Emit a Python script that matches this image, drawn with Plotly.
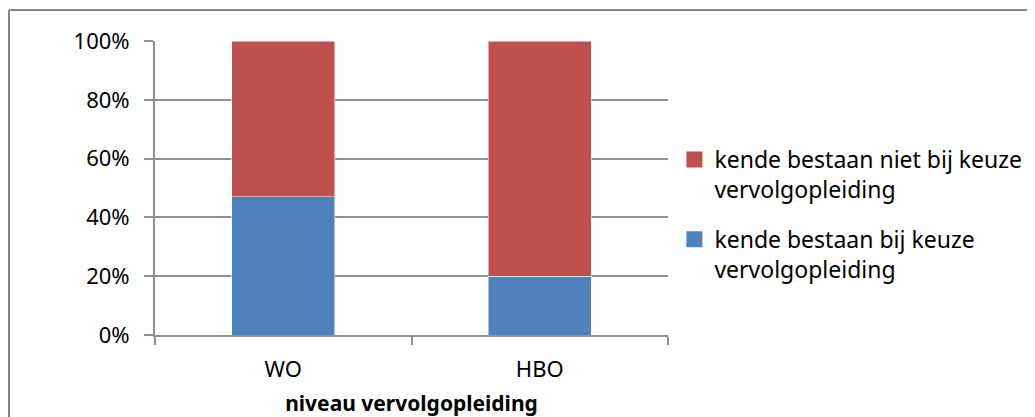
import plotly.graph_objects as go

categories = ["WO", "HBO"]
kende_bij = [47, 20]
kende_niet = [53, 80]
y_ticks = [0, 20, 40, 60, 80, 100]
y_ticklabels = ["0%", "20%", "40%", "60%", "80%", "100%"]

FONT = "Noto Sans"
GRID = "#8f8f8f"
BLUE = "#4F81BD"
RED = "#C0504D"
name_bij = "kende bestaan bij keuze<br>vervolgopleiding"
name_niet = "kende bestaan niet bij keuze<br>vervolgopleiding"

fig = go.Figure()
fig.add_bar(x=categories, y=kende_bij, name=name_bij, showlegend=False,
            marker=dict(color=BLUE, line=dict(color="white", width=0.5)))
fig.add_bar(x=categories, y=kende_niet, name=name_niet, showlegend=False,
            marker=dict(color=RED, line=dict(color="white", width=0.5)))

# legend entries with the larger square swatches of the original
fig.add_scatter(x=[None], y=[None], mode="markers", name=name_niet, legendgroup="a", legendrank=1,
                marker=dict(symbol="square", size=17, color=RED))
fig.add_scatter(x=[None], y=[None], mode="markers", name=name_bij, legendgroup="b", legendrank=2,
                marker=dict(symbol="square", size=17, color=BLUE))

# outer frame of the chart area (top and left edges only visible)
fig.add_shape(type="line", xref="paper", yref="paper", x0=-0.2846, x1=1.75, y0=1.1054, y1=1.1054,
              line=dict(color="#868686", width=2))
fig.add_shape(type="line", xref="paper", yref="paper", x0=-0.2846, x1=-0.2846, y0=1.1054, y1=-0.35,
              line=dict(color="#868686", width=2))

fig.update_layout(
    barmode="stack",
    bargap=0.6,
    width=1035,
    height=417,
    margin=dict(l=147, r=375, t=33, b=90),
    paper_bgcolor="white",
    plot_bgcolor="white",
    font=dict(family=FONT, size=22, color="black"),
    showlegend=True,
    legend=dict(x=1.0125, y=0.67, xanchor="left", yanchor="top",
                traceorder="grouped", tracegroupgap=17, valign="top",
                itemwidth=30, font=dict(family=FONT, size=23)),
    xaxis=dict(
        type="category",
        showline=True, linecolor=GRID, linewidth=2,
        ticks="outside", tickson="boundaries", ticklen=8, tickcolor=GRID, tickwidth=2,
        ticklabelstandoff=14,
        title=dict(text="<b>niveau vervolgopleiding</b>", standoff=14, font=dict(size=21)),
        tickfont=dict(size=22),
    ),
    yaxis=dict(
        range=[0, 100], tickvals=y_ticks, ticktext=y_ticklabels,
        showline=True, linecolor=GRID, linewidth=2,
        showgrid=True, gridcolor=GRID, gridwidth=2,
        ticks="outside", ticklen=9, tickcolor=GRID, tickwidth=2,
        ticklabelstandoff=10,
        zeroline=False, tickfont=dict(size=22),
    ),
)

fig.write_html("out.html")
